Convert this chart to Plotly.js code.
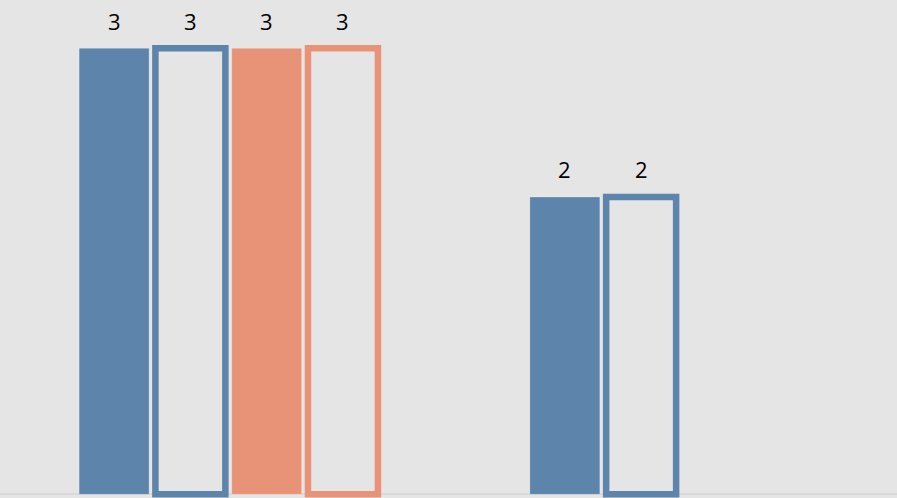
<!DOCTYPE html>
<html>
<head>
<meta charset="utf-8">
<script src="https://cdn.plot.ly/plotly-3.0.1.min.js"></script>
<style>html,body{margin:0;padding:0;background:#e5e5e5;}#chart{width:897px;height:498px;}</style>
</head>
<body>
<div id="chart"></div>
<script>
const categories = ["A", "B"];
const seriesNames = ["Blue filled", "Blue outline", "Salmon filled", "Salmon outline"];
const filledBlue = [3, 2];
const outlineBlue = [3, 2];
const filledSalmon = [3, null];
const outlineSalmon = [3, null];

const BLUE = "#5d84aa";
const SALMON = "#e89378";
const BG = "#e5e5e5";
const bargap = 0.323;
const bargroupgap = 0.083;

const seriesValues = [filledBlue, outlineBlue, filledSalmon, outlineSalmon];
const seriesStyles = [
  {fill: BLUE, line: "rgba(255,255,255,0.25)", w: 1},
  {fill: "rgba(0,0,0,0)", line: BLUE, w: 6.5},
  {fill: SALMON, line: "rgba(255,255,255,0.25)", w: 1},
  {fill: "rgba(0,0,0,0)", line: SALMON, w: 6.5}
];

const traces = seriesValues.map((vals, k) => ({
  type: "bar",
  name: seriesNames[k],
  x: categories,
  y: vals,
  marker: {color: seriesStyles[k].fill, line: {color: seriesStyles[k].line, width: seriesStyles[k].w}},
  hoverinfo: "none",
  cliponaxis: false
}));

const n = seriesValues.length;
const slot = (1 - bargap) / n;
const annotations = [];
seriesValues.forEach((vals, k) => {
  vals.forEach((v, i) => {
    if (v === null || v === undefined) return;
    annotations.push({
      xref: "x", yref: "y",
      x: i + (k - (n - 1) / 2) * slot,
      y: v,
      text: String(v),
      showarrow: false,
      yanchor: "middle",
      yshift: 27.5,
      font: {family: "Open Sans, sans-serif", size: 22, color: "#000"}
    });
  });
});

const layout = {
  width: 897, height: 498,
  margin: {l: 0, r: 0, t: 0, b: 0, pad: 0},
  paper_bgcolor: BG, plot_bgcolor: BG,
  showlegend: false,
  barmode: "group",
  bargap: bargap,
  bargroupgap: bargroupgap,
  xaxis: {type: "category", range: [-0.507, 1.483], showgrid: false, zeroline: false, showticklabels: false, ticks: "", showline: false, fixedrange: true},
  yaxis: {range: [-0.0249, 3.325], showgrid: false, zeroline: true, zerolinecolor: "#d9d9d9", zerolinewidth: 2, showticklabels: false, ticks: "", showline: false, layer: "above traces", fixedrange: true},
  annotations: annotations
};

Plotly.newPlot("chart", traces, layout, {displayModeBar: false, staticPlot: true});
</script>
</body>
</html>
